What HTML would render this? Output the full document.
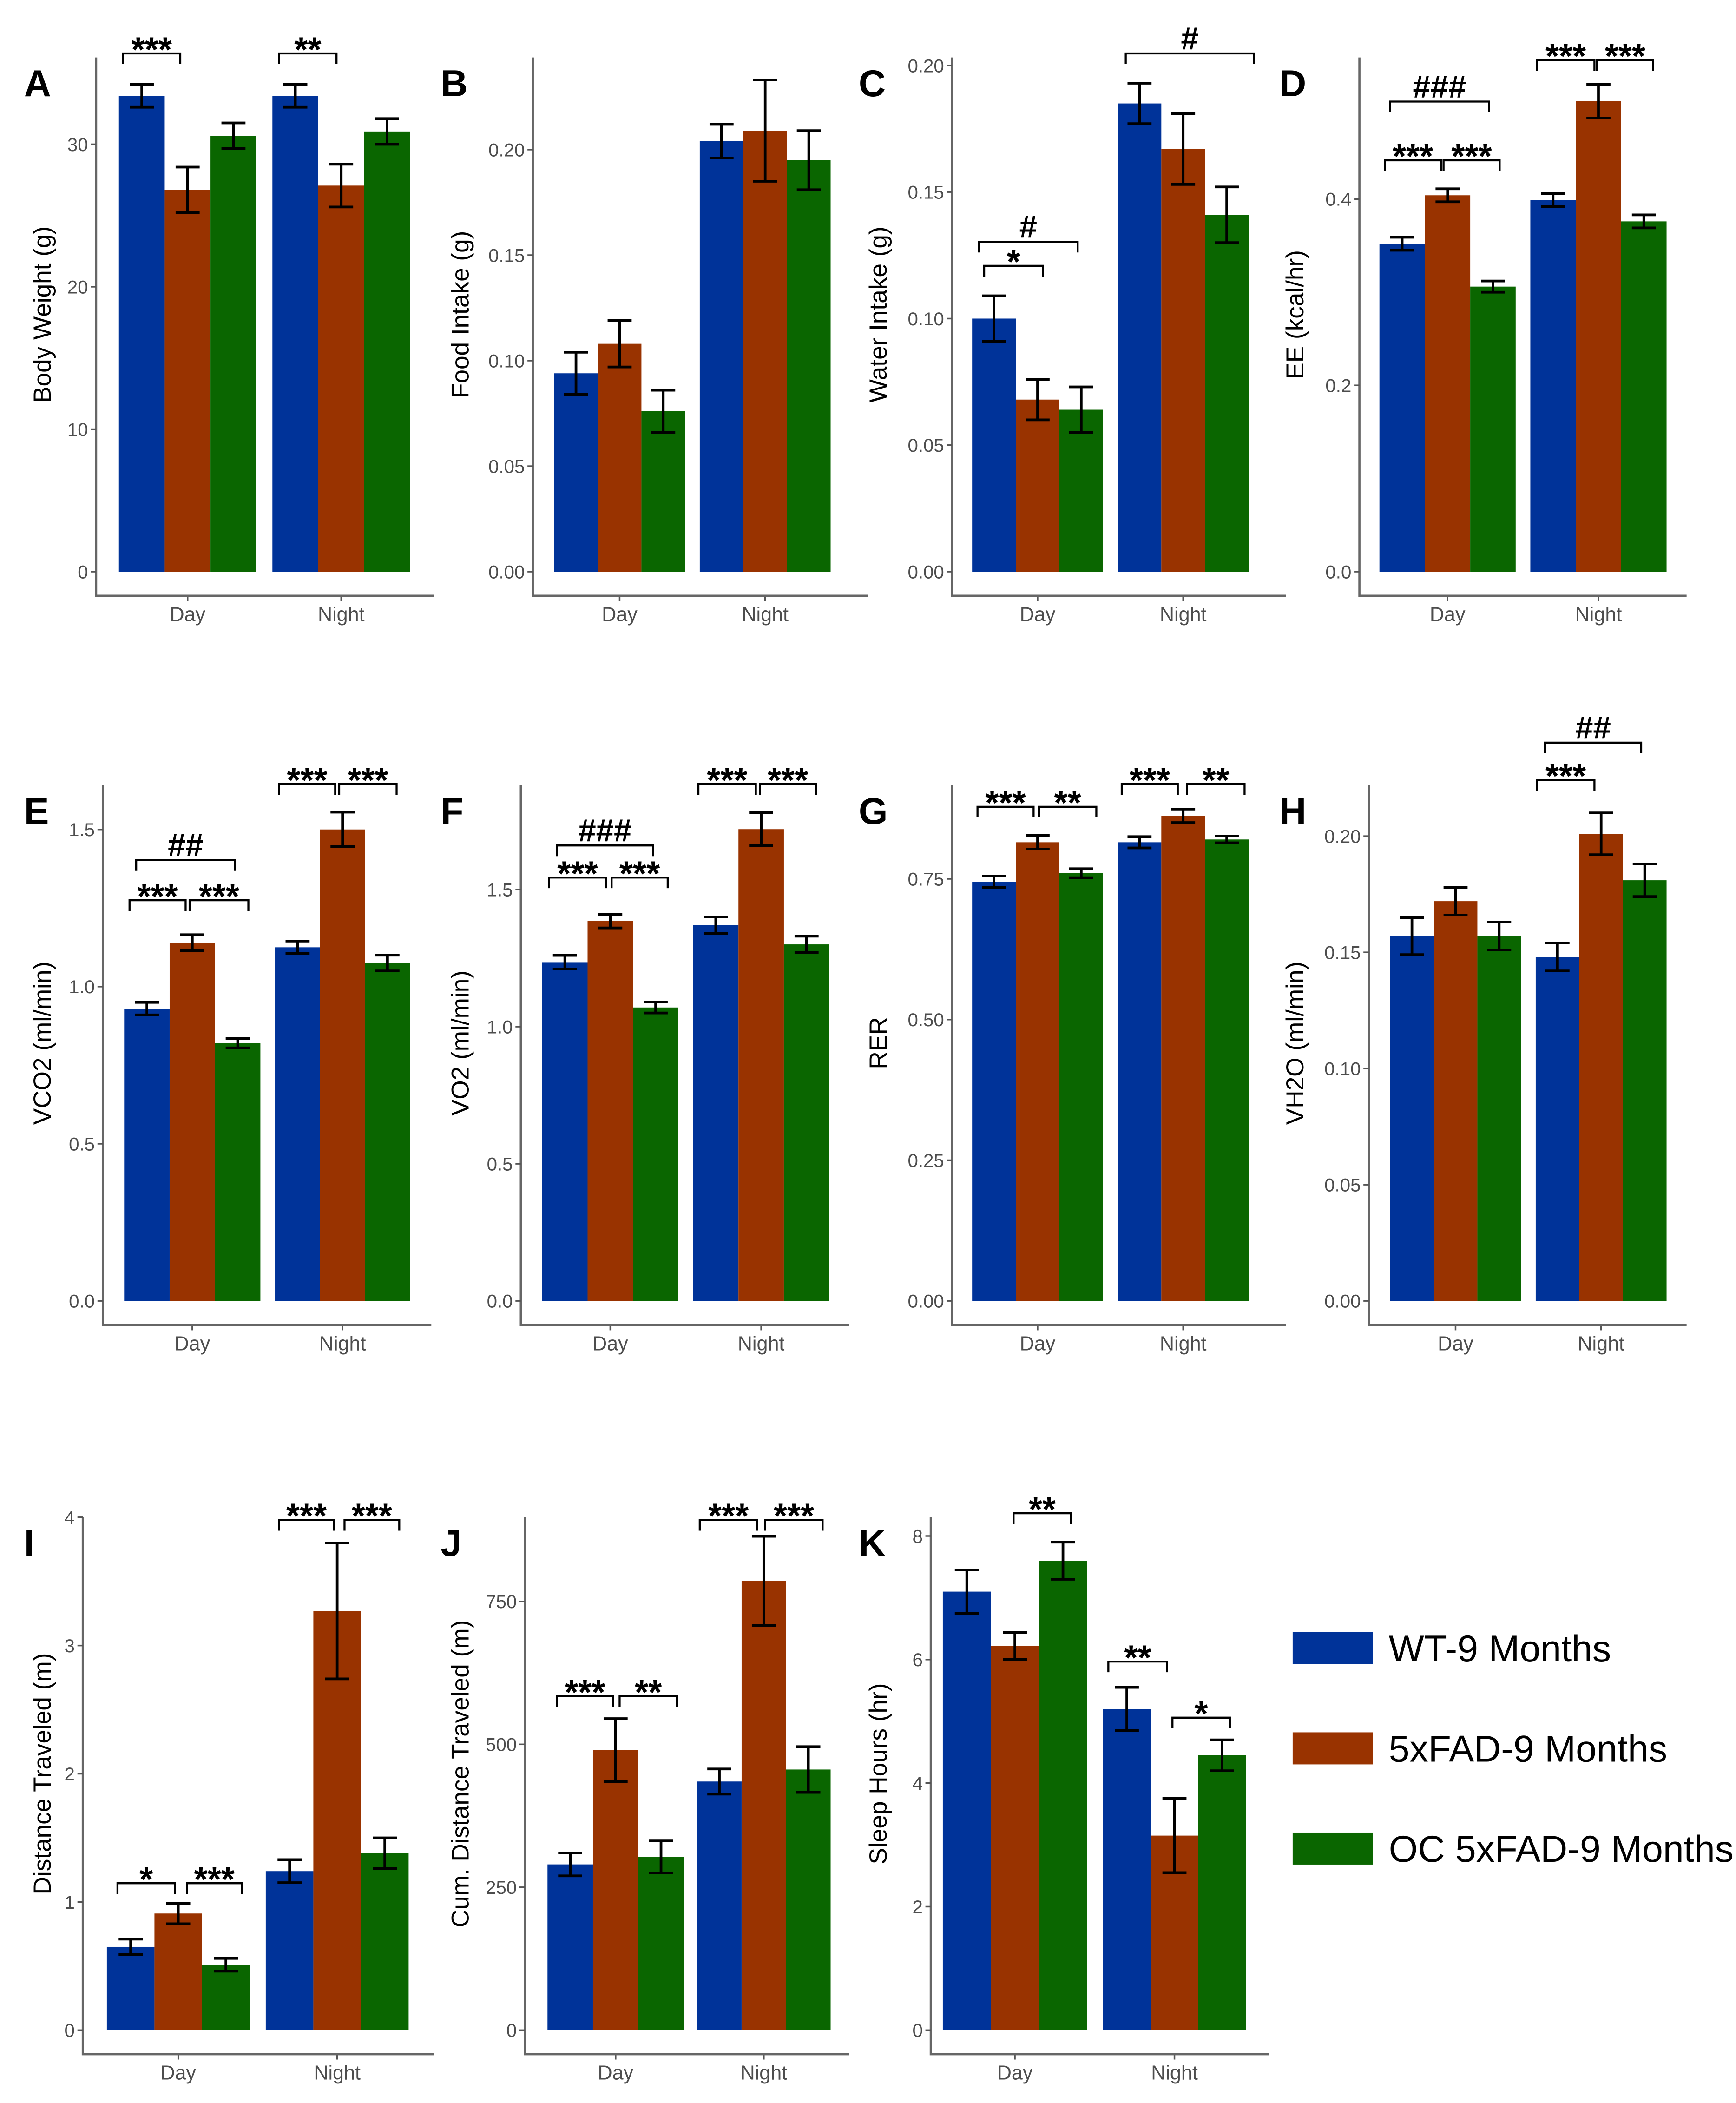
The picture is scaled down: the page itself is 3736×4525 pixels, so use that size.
<!DOCTYPE html>
<html><head><meta charset="utf-8"><style>
html,body{margin:0;padding:0;background:#fff}
svg{display:block}
text{font-family:"Liberation Sans",sans-serif}
</style></head><body>
<svg id="fig" xmlns="http://www.w3.org/2000/svg" width="3736" height="4525" viewBox="0 0 1300 1574.5"></svg>
<script>
// ---- data ----
const groups = ["Day","Night"];
const seriesNames = ["WT-9 Months","5xFAD-9 Months","OC 5xFAD-9 Months"];
const bodyWeightMean = [[33.4,26.8,30.6],[33.4,27.1,30.9]];
const bodyWeightErr  = [[0.8,1.6,0.9],[0.8,1.5,0.9]];
const foodMean = [[0.094,0.108,0.076],[0.204,0.209,0.195]];
const foodErr  = [[0.010,0.011,0.010],[0.008,0.024,0.014]];
const waterMean = [[0.100,0.068,0.064],[0.185,0.167,0.141]];
const waterErr  = [[0.009,0.008,0.009],[0.008,0.014,0.011]];
const eeMean = [[0.352,0.404,0.306],[0.399,0.505,0.376]];
const eeErr  = [[0.007,0.007,0.006],[0.007,0.018,0.007]];
const vco2Mean = [[0.93,1.14,0.82],[1.125,1.50,1.075]];
const vco2Err  = [[0.02,0.025,0.015],[0.02,0.055,0.025]];
const vo2Mean = [[1.235,1.385,1.07],[1.37,1.72,1.30]];
const vo2Err  = [[0.025,0.025,0.02],[0.03,0.06,0.03]];
const rerMean = [[0.745,0.815,0.76],[0.815,0.862,0.82]];
const rerErr  = [[0.01,0.012,0.008],[0.01,0.012,0.006]];
const vh2oMean = [[0.157,0.172,0.157],[0.148,0.201,0.181]];
const vh2oErr  = [[0.008,0.006,0.006],[0.006,0.009,0.007]];
const distMean = [[0.65,0.91,0.51],[1.24,3.27,1.38]];
const distErr  = [[0.06,0.08,0.05],[0.09,0.53,0.12]];
const cumMean = [[290,490,303],[435,786,456]];
const cumErr  = [[20,55,28],[22,78,40]];
const sleepMean = [[7.1,6.22,7.6],[5.2,3.15,4.45]];
const sleepErr  = [[0.35,0.22,0.3],[0.35,0.6,0.25]];
const ticksA=[0,10,20,30], ticksB=[0,0.05,0.10,0.15,0.20], ticksC=[0,0.05,0.10,0.15,0.20], ticksD=[0,0.2,0.4];
const ticksE=[0,0.5,1.0,1.5], ticksF=[0,0.5,1.0,1.5], ticksG=[0,0.25,0.5,0.75], ticksH=[0,0.05,0.10,0.15,0.20];
const ticksI=[0,1,2,3,4], ticksJ=[0,250,500,750], ticksK=[0,2,4,6,8];
const tickFmtA=["0","10","20","30"], tickFmtB=["0.00","0.05","0.10","0.15","0.20"], tickFmtD=["0.0","0.2","0.4"];
const tickFmtE=["0.0","0.5","1.0","1.5"], tickFmtG=["0.00","0.25","0.50","0.75"];
const tickFmtI=["0","1","2","3","4"], tickFmtJ=["0","250","500","750"], tickFmtK=["0","2","4","6","8"];

const colors=["#003399","#993300","#0a6600"];
const svg=document.getElementById('fig');
const NS="http://www.w3.org/2000/svg";
function mk(tag,attrs,parent){const e=document.createElementNS(NS,tag);for(const k in attrs)e.setAttribute(k,attrs[k]);(parent||svg).appendChild(e);return e;}

// layout: axis x, x-axis right end, top, zero y, day bar range, night bar range, tick pos for t1 (y of last tick)
const panels=[
 {id:"A",title:"Body Weight (g)",m:bodyWeightMean,e:bodyWeightErr,ticks:ticksA,fmt:tickFmtA,ax:72,ar:325,top:43,y0:428,y1:108,d:[89,192],n:[204,307],lx:18,ly:72,tx:32,
  ann:[[92,135,40,"***"],[209,252,40,"**"]]},
 {id:"B",title:"Food Intake (g)",m:foodMean,e:foodErr,ticks:ticksB,fmt:tickFmtB,ax:399,ar:650,top:43,y0:428,y1:112,d:[415,513],n:[524,622],lx:330,ly:72,tx:345,ann:[]},
 {id:"C",title:"Water Intake (g)",m:waterMean,e:waterErr,ticks:ticksC,fmt:tickFmtB,ax:713,ar:963,top:43,y0:428,y1:49,d:[728,826],n:[837,935],lx:643,ly:72,tx:658,
  ann:[[733,807,181,"#"],[737,781,199,"*"],[843,939,40,"#"]]},
 {id:"D",title:"EE (kcal/hr)",m:eeMean,e:eeErr,ticks:ticksD,fmt:tickFmtD,ax:1018,ar:1263,top:43,y0:428,y1:149,d:[1033,1135],n:[1146,1248],lx:958,ly:72,tx:970,
  ann:[[1041,1115,76,"###"],[1037,1079,120,"***"],[1081,1123,120,"***"],[1151,1194,45,"***"],[1196,1238,45,"***"]]},
 {id:"E",title:"VCO2 (ml/min)",m:vco2Mean,e:vco2Err,ticks:ticksE,fmt:tickFmtE,ax:77,ar:323,top:588,y0:974,y1:621,d:[93,195],n:[206,307],lx:18,ly:617,tx:32,
  ann:[[102,176,644,"##"],[97,139,674,"***"],[142,186,674,"***"],[209,251,587,"***"],[254,297,587,"***"]]},
 {id:"F",title:"VO2 (ml/min)",m:vo2Mean,e:vo2Err,ticks:ticksF,fmt:tickFmtE,ax:390,ar:636,top:588,y0:974,y1:666,d:[406,508],n:[519,621],lx:330,ly:617,tx:345,
  ann:[[417,489,633,"###"],[411,454,657,"***"],[458,500,657,"***"],[523,566,587,"***"],[569,611,587,"***"]]},
 {id:"G",title:"RER",m:rerMean,e:rerErr,ticks:ticksG,fmt:tickFmtG,ax:713,ar:963,top:588,y0:974,y1:658,d:[728,826],n:[837,935],lx:643,ly:617,tx:658,
  ann:[[732,774,604,"***"],[778,821,604,"**"],[840,882,587,"***"],[889,932,587,"**"]]},
 {id:"H",title:"VH2O (ml/min)",m:vh2oMean,e:vh2oErr,ticks:ticksH,fmt:tickFmtB,ax:1025,ar:1263,top:588,y0:974,y1:626,d:[1041,1139],n:[1150,1248],lx:958,ly:617,tx:970,
  ann:[[1157,1229,556,"##"],[1151,1194,584,"***"]]},
 {id:"I",title:"Distance Traveled (m)",m:distMean,e:distErr,ticks:ticksI,fmt:tickFmtI,ax:62,ar:325,top:1136,y0:1520,y1:1136,d:[80,187],n:[199,306],lx:18,ly:1165,tx:32,
  ann:[[88,131,1410,"*"],[140,181,1410,"***"],[209,250,1138,"***"],[258,299,1138,"***"]]},
 {id:"J",title:"Cum. Distance Traveled (m)",m:cumMean,e:cumErr,ticks:ticksJ,fmt:tickFmtJ,ax:393,ar:636,top:1136,y0:1520,y1:1199,d:[410,512],n:[522,622],lx:330,ly:1165,tx:345,
  ann:[[417,459,1270,"***"],[464,507,1270,"**"],[524,567,1138,"***"],[573,616,1138,"***"]]},
 {id:"K",title:"Sleep Hours (hr)",m:sleepMean,e:sleepErr,ticks:ticksK,fmt:tickFmtK,ax:697,ar:950,top:1136,y0:1520,y1:1150,d:[706,814],n:[826,933],lx:643,ly:1165,tx:658,
  ann:[[759,802,1133,"**"],[830,874,1244,"**"],[878,921,1286,"*"]]}
];

panels.forEach(p=>{
  const g=mk('g',{});
  
  
  const tmax=p.ticks[p.ticks.length-1];
  const y=v=>p.y0-(v/tmax)*(p.y0-p.y1);
  const xb=p.y0+18;
  // bars
  [p.d,p.n].forEach((rng,gi)=>{
    const w=(rng[1]-rng[0])/3;
    for(let s=0;s<3;s++){
      const v=p.m[gi][s], er=p.e[gi][s];
      const x=rng[0]+s*w;
      const r=mk('rect',{x:x,y:y(v),width:w,height:p.y0-y(v),fill:colors[s]},g);
      
      
      const cx=x+w/2;
      const eb=mk('path',{d:`M${cx-9},${y(v+er)}H${cx+9}M${cx},${y(v+er)}V${y(v-er)}M${cx-9},${y(v-er)}H${cx+9}`,stroke:'#000','stroke-width':2,fill:'none'},g);
      
      
    }
    const lab=mk('text',{x:(rng[0]+rng[1])/2,y:xb+19,'font-size':15,fill:'#4d4d4d','text-anchor':'middle'},g);
    lab.textContent=groups[gi];
    
    
    mk('line',{x1:(rng[0]+rng[1])/2,x2:(rng[0]+rng[1])/2,y1:xb,y2:xb+4,stroke:'#555','stroke-width':1.2},g);
  });
  // axes
  const ax=mk('path',{d:`M${p.ax},${p.top}V${xb}H${p.ar}`,stroke:'#666','stroke-width':1.6,fill:'none'},g);
  
  
  p.ticks.forEach((t,i)=>{
    mk('line',{x1:p.ax-4,x2:p.ax,y1:y(t),y2:y(t),stroke:'#555','stroke-width':1.2},g);
    const tl=mk('text',{x:p.ax-6,y:y(t)+5,'font-size':14,fill:'#4d4d4d','text-anchor':'end'},g);
    tl.textContent=p.fmt[i];
    
    
  });
  const cy=(p.top+p.y0)/2;
  const yt=mk('text',{x:0,y:0,'font-size':18.5,fill:'#000','text-anchor':'middle',transform:`translate(${p.tx+6},${cy}) rotate(-90)`},g);
  yt.textContent=p.title;
  
  
  const L=mk('text',{x:p.lx,y:p.ly,'font-size':28,'font-weight':'bold',fill:'#000'},g);
  L.textContent=p.id;
  
  
  p.ann.forEach(a=>{
    const br=mk('path',{d:`M${a[0]},${a[2]+8}V${a[2]}H${a[1]}V${a[2]+8}`,stroke:'#000','stroke-width':1.5,fill:'none'},g);
    
    
    const st=a[3].startsWith('#');
    const t=mk('text',{x:(a[0]+a[1])/2,y:a[2]-(st?3:-6),'font-size':st?24:26,'font-weight':'bold',fill:'#000','text-anchor':'middle'},g);
    t.textContent=a[3];
    
    
  });
});

// legend
const legY=[1222,1297,1372];
seriesNames.forEach((n,i)=>{
  const r=mk('rect',{x:968,y:legY[i],width:60,height:24,fill:colors[i]});
  
  
  const t=mk('text',{x:1040,y:legY[i]+22,'font-size':28,fill:'#000'});
  t.textContent=n;
  
  
});
</script>
</body></html>
